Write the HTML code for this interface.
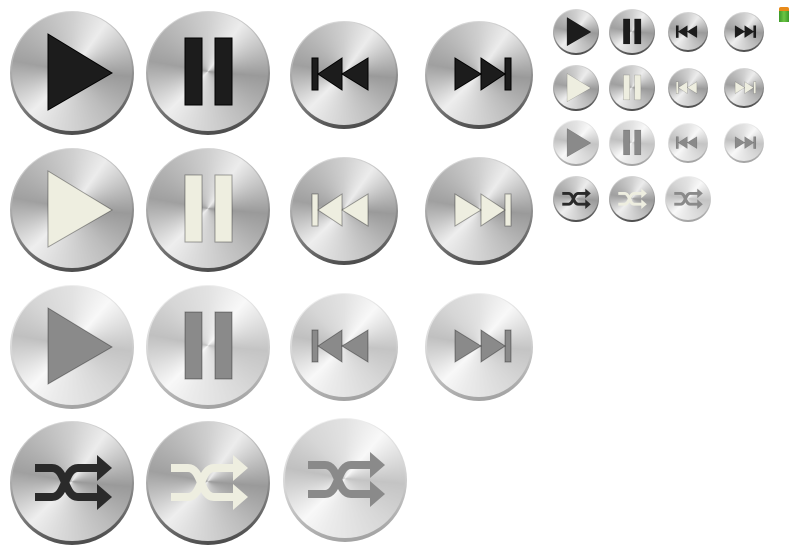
<!DOCTYPE html>
<html><head><meta charset="utf-8">
<style>
html,body{margin:0;padding:0;background:#fff;width:800px;height:552px;overflow:hidden;font-family:"Liberation Sans",sans-serif}
.btn{position:absolute;border-radius:50%;}
.rim{position:absolute;inset:0;border-radius:50%;background:linear-gradient(170deg,#e0e0e0 0%,#a8a8a8 45%,#3e3e3e 100%);}
.face{position:absolute;border-radius:50%;
background:conic-gradient(from 0deg,#cfcfcf 0deg,#ececec 35deg,#9a9a9a 95deg,#bcbcbc 140deg,#dedede 200deg,#eeeeee 225deg,#a0a0a0 280deg,#b8b8b8 320deg,#cfcfcf 360deg);}
.light .rim{background:linear-gradient(170deg,#f2f2f2 0%,#d4d4d4 50%,#9a9a9a 100%);}
.light .face{background:conic-gradient(from 0deg,#e2e2e2 0deg,#f8f8f8 40deg,#c4c4c4 95deg,#d8d8d8 140deg,#ececec 200deg,#f8f8f8 225deg,#c0c0c0 280deg,#d6d6d6 320deg,#e2e2e2 360deg);}
.btn svg{position:absolute;left:0;top:0;overflow:visible}
</style></head><body>
<div id="sheet"></div>
<div style="position:absolute;left:778px;top:7px;width:12px;height:16px">
 <div style="position:absolute;left:1px;top:0;width:10px;height:4px;background:#e88a1a;border-radius:2px 2px 0 0"></div>
 <div style="position:absolute;left:1px;top:4px;width:10px;height:11px;background:linear-gradient(90deg,#3d9a2a,#6cc544,#3d9a2a)"></div>
</div>
<script>
const buttons=[
 [72,73,62,'play','#1c1c1c',''],[208,73,62,'pause','#1c1c1c',''],[344,75,54,'prev','#1c1c1c',''],[479,75,54,'next','#1c1c1c',''],
 [72,210,62,'play','#eeeee0',''],[208,210,62,'pause','#eeeee0',''],[344,211,54,'prev','#eeeee0',''],[479,211,54,'next','#eeeee0',''],
 [72,347,62,'play','#8a8a8a','light'],[208,347,62,'pause','#8a8a8a','light'],[344,347,54,'prev','#8a8a8a','light'],[479,347,54,'next','#8a8a8a','light'],
 [72,483,62,'shuffle','#2a2a2a',''],[208,483,62,'shuffle','#eeeee0',''],[345,480,62,'shuffle','#8a8a8a','light'],
 [576,32,23,'play','#1c1c1c',''],[632,32,23,'pause','#1c1c1c',''],[688,32,20,'prev','#1c1c1c',''],[744,32,20,'next','#1c1c1c',''],
 [576,88,23,'play','#eeeee0',''],[632,88,23,'pause','#eeeee0',''],[688,88,20,'prev','#eeeee0',''],[744,88,20,'next','#eeeee0',''],
 [576,143,23,'play','#8a8a8a','light'],[632,143,23,'pause','#8a8a8a','light'],[688,143,20,'prev','#8a8a8a','light'],[744,143,20,'next','#8a8a8a','light'],
 [576,199,23,'shuffle','#2a2a2a',''],[632,199,23,'shuffle','#eeeee0',''],[688,199,23,'shuffle','#8a8a8a','light']
];
function glyph(t,c,edge){
 const s='stroke="'+edge+'" stroke-width="1"';
 if(t==='play')return '<polygon points="-24,-39 40,0 -24,37" fill="'+c+'" '+s+'/>';
 if(t==='pause')return '<rect x="-23" y="-35" width="17" height="67" fill="'+c+'" '+s+'/><rect x="7" y="-35" width="17" height="67" fill="'+c+'" '+s+'/>';
 if(t==='prev')return '<rect x="-32" y="-17" width="6" height="32" fill="'+c+'" '+s+'/><polygon points="-26,-1 -2,-17 -2,15" fill="'+c+'" '+s+'/><polygon points="-2,-1 24,-17 24,15" fill="'+c+'" '+s+'/>';
 if(t==='next')return '<rect x="26" y="-17" width="6" height="32" fill="'+c+'" '+s+'/><polygon points="26,-1 2,-17 2,15" fill="'+c+'" '+s+'/><polygon points="2,-1 -24,-17 -24,15" fill="'+c+'" '+s+'/>';
 return '<path d="M-37,-15 H-20 C-6,-15 -8,14 6,14 H28" fill="none" stroke="'+c+'" stroke-width="8"/>'+
  '<path d="M-37,14 H-20 C-6,14 -8,-15 6,-15 H28" fill="none" stroke="'+c+'" stroke-width="8"/>'+
  '<polygon points="25,-28 40,-15 25,-2" fill="'+c+'"/><polygon points="25,1 40,14 25,27" fill="'+c+'"/>';
}
const sheet=document.getElementById('sheet');
buttons.forEach(b=>{
 const [x,y,r,t,c,st]=b;
 const d=document.createElement('div');
 d.className='btn '+st;
 
 
 d.style.left=(x-r)+'px';d.style.top=(y-r)+'px';d.style.width=(2*r)+'px';d.style.height=(2*r)+'px';
 const bw=Math.max(2,r*0.06);
 const ref=(t==='prev'||t==='next')?54:62;
 const k=r/ref;
 const edge=c==='#1c1c1c'||c==='#2a2a2a'?'#000':'rgba(0,0,0,0.35)';
 d.innerHTML='<div class="rim"></div><div class="face" style="left:'+bw*0.6+'px;top:'+bw*0.4+'px;right:'+bw*0.6+'px;bottom:'+bw*1.2+'px"></div>'+
  '<svg width="'+2*r+'" height="'+2*r+'"><g transform="translate('+r+','+r+') scale('+k+')">'+glyph(t,c,edge)+'</g></svg>';
 sheet.appendChild(d);
});
</script>
</body></html>
